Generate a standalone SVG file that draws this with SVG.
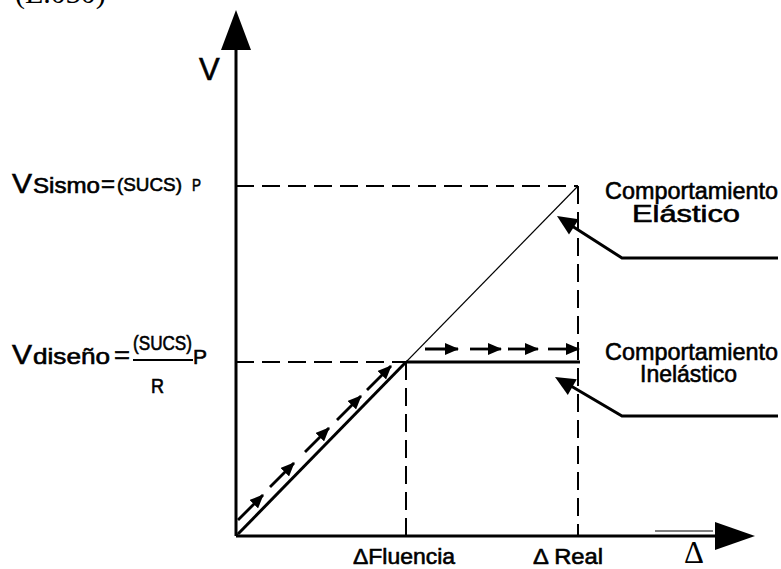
<svg xmlns="http://www.w3.org/2000/svg" width="781" height="569" viewBox="0 0 781 569">
<style>
.t{font-family:"Liberation Sans",Arial,sans-serif;fill:#000;stroke:#000;stroke-width:0.6}
.s{font-family:"Liberation Serif","Times New Roman",serif;fill:#000}
.ax{stroke:#000;stroke-width:3;fill:none}
.dash{stroke:#000;stroke-width:2;stroke-dasharray:18 8;fill:none}
.thin{stroke:#000;stroke-width:1.2;fill:none}
.solid{stroke:#000;stroke-width:3;fill:none}
.flow{stroke:#000;stroke-width:2.8;fill:none;marker-end:url(#ah)}
</style>
<defs>
<marker id="ah" markerUnits="userSpaceOnUse" markerWidth="14" markerHeight="12" refX="13" refY="6" orient="auto">
<path d="M0,0 L14,6 L0,12 Z" fill="#000"/>
</marker>
</defs>
<rect width="781" height="569" fill="#fff"/>
<text class="s" x="15" y="3" font-size="30">(E.030)</text>

<g id="axes">
<line class="ax" x1="236" y1="48" x2="236" y2="536"/>
<polygon points="236,10 221,50 251,50" fill="#000"/>
<line class="ax" x1="236" y1="536" x2="718" y2="536"/>
<polygon points="755,536 715,522 715,550" fill="#000"/>
<line class="thin" x1="655" y1="531" x2="713" y2="531"/>
<text class="t" x="199" y="80" font-size="31">V</text>
<text class="s" x="684" y="563" font-size="31">Δ</text>
</g>

<g id="connectors">
<line class="dash" x1="236" y1="186" x2="578" y2="186"/>
<line class="dash" x1="578" y1="186" x2="578" y2="536"/>
<line class="dash" x1="236" y1="362" x2="406" y2="362"/>
<line class="dash" x1="406" y1="362" x2="406" y2="536"/>
<line class="thin" x1="236" y1="536" x2="578" y2="186"/>
<line class="solid" x1="238" y1="534" x2="406" y2="362"/>
<line class="solid" x1="406" y1="362" x2="580" y2="362"/>
<line class="flow" x1="238" y1="520" x2="263" y2="495"/>
<line class="flow" x1="270" y1="487" x2="294" y2="463"/>
<line class="flow" x1="305" y1="452" x2="329" y2="428"/>
<line class="flow" x1="337" y1="420" x2="361" y2="396"/>
<line class="flow" x1="367" y1="390" x2="391" y2="366"/>
<line class="flow" x1="425" y1="349" x2="458" y2="349"/>
<line class="flow" x1="470" y1="349" x2="501" y2="349"/>
<line class="flow" x1="508" y1="349" x2="538" y2="349"/>
<line class="flow" x1="548" y1="349" x2="579" y2="349"/>
<polyline class="solid" points="778,258 622,258 572,226"/>
<polygon points="557,216 578.8,219.3 569,234.5" fill="#000"/>
<polyline class="solid" points="778,416 622,416 571,386"/>
<polygon points="555,377 576.8,379.3 567.8,394.9" fill="#000"/>
</g>

<g id="v-sismo">
<text class="t" x="12" y="193" font-size="28" textLength="20" lengthAdjust="spacingAndGlyphs">V</text>
<text class="t" x="33" y="193" font-size="22" textLength="67" lengthAdjust="spacingAndGlyphs">Sismo</text>
<text class="t" x="101" y="192" font-size="24" textLength="14" lengthAdjust="spacingAndGlyphs">=</text>
<text class="t" x="117" y="191" font-size="19" textLength="65" lengthAdjust="spacingAndGlyphs">(SUCS)</text>
<text class="t" x="192" y="191" font-size="17" textLength="9" lengthAdjust="spacingAndGlyphs">P</text>
</g>

<g id="v-diseno">
<text class="t" x="12" y="364" font-size="28" textLength="20" lengthAdjust="spacingAndGlyphs">V</text>
<text class="t" x="33" y="364" font-size="22" textLength="77" lengthAdjust="spacingAndGlyphs">diseño</text>
<text class="t" x="114" y="363" font-size="24" textLength="16" lengthAdjust="spacingAndGlyphs">=</text>
<text class="t" x="133" y="350" font-size="20" textLength="59" lengthAdjust="spacingAndGlyphs">(SUCS)</text>
<line x1="133" y1="360" x2="193" y2="360" stroke="#000" stroke-width="2.2"/>
<text class="t" x="151" y="393" font-size="20" textLength="13" lengthAdjust="spacingAndGlyphs">R</text>
<text class="t" x="193" y="364" font-size="21" textLength="14" lengthAdjust="spacingAndGlyphs">P</text>
</g>

<g id="elastico">
<text class="t" x="605" y="199" font-size="24" textLength="173" lengthAdjust="spacingAndGlyphs">Comportamiento</text>
<text class="t" x="632" y="222" font-size="24" textLength="108" lengthAdjust="spacingAndGlyphs">Elástico</text>
</g>

<g id="inelastico">
<text class="t" x="605" y="360" font-size="24" textLength="173" lengthAdjust="spacingAndGlyphs">Comportamiento</text>
<text class="t" x="640" y="382" font-size="24" textLength="97" lengthAdjust="spacingAndGlyphs">Inelástico</text>
</g>

<g id="fluencia">
<text class="t" x="353" y="564" font-size="22" textLength="102" lengthAdjust="spacingAndGlyphs">ΔFluencia</text>
</g>

<g id="real">
<text class="t" x="533" y="564" font-size="22" textLength="70" lengthAdjust="spacingAndGlyphs">Δ Real</text>
</g>
</svg>
